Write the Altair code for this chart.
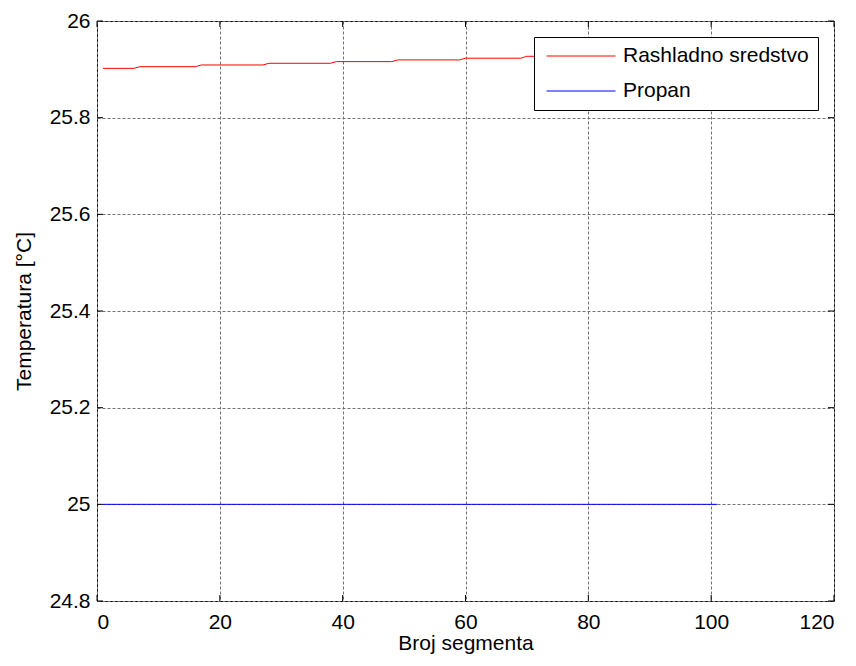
import altair as alt
import pandas as pd

# Data
red_name = "Rashladno sredstvo"
blue_name = "Propan"
red_x = [1, 6, 7, 16, 17, 27, 28, 38, 39, 48, 49, 59, 60, 69, 70, 80, 81, 90, 91, 101]
red_y = [25.902, 25.902, 25.9055, 25.9055, 25.909, 25.909, 25.9125, 25.9125,
         25.916, 25.916, 25.9195, 25.9195, 25.923, 25.923, 25.927, 25.927,
         25.930, 25.930, 25.934, 25.934]
blue_x = [1, 101]
blue_y = [25.0, 25.0]
x_ticks = [0, 20, 40, 60, 80, 100, 120]
y_ticks = [24.8, 25.0, 25.2, 25.4, 25.6, 25.8, 26.0]
colors = ["#ff0000", "#0000ff"]

W, H = 737, 580
FONT = "Liberation Sans"
FS = 21

df = pd.DataFrame(
    {"seg": red_x + blue_x,
     "temp": red_y + blue_y,
     "series": [red_name] * len(red_x) + [blue_name] * len(blue_x),
     "order": list(range(len(red_x))) + list(range(len(blue_x)))}
)
xt = pd.DataFrame({"v": x_ticks})
yt = pd.DataFrame({"v": y_ticks})

xscale = alt.Scale(domain=[0, 120], nice=False, zero=False)
yscale = alt.Scale(domain=[24.8, 26.0], nice=False, zero=False)

lines = alt.Chart(df).mark_line(strokeWidth=1).encode(
    x=alt.X("seg:Q", scale=xscale,
            axis=alt.Axis(values=x_ticks, title="Broj segmenta", ticks=False, domain=False,
                          grid=True, labelPadding=10, titlePadding=0, format="d")),
    y=alt.Y("temp:Q", scale=yscale,
            axis=alt.Axis(values=y_ticks, title="Temperatura [°C]", ticks=False, domain=False,
                          grid=True, labelPadding=7, titlePadding=15, format="~g")),
    color=alt.Color("series:N",
                    scale=alt.Scale(domain=[red_name, blue_name], range=colors),
                    legend=alt.Legend(title=None, orient="none", legendX=437, legendY=16,
                                      symbolType="stroke", symbolSize=4761, symbolStrokeWidth=1,
                                      clipHeight=20, symbolOffset=3, labelOffset=7,
                                      labelLimit=0, rowPadding=14,
                                      strokeColor="black", fillColor="white", padding=9)),
    order="order:Q",
)

TL = 6
bottom_ticks = alt.Chart(xt).mark_rule(color="black", strokeWidth=1).encode(
    x=alt.X("v:Q", scale=xscale), y=alt.value(H), y2=alt.value(H - TL))
top_ticks = alt.Chart(xt).mark_rule(color="black", strokeWidth=1).encode(
    x=alt.X("v:Q", scale=xscale), y=alt.value(0), y2=alt.value(TL))
left_ticks = alt.Chart(yt).mark_rule(color="black", strokeWidth=1).encode(
    y=alt.Y("v:Q", scale=yscale), x=alt.value(0), x2=alt.value(TL))
right_ticks = alt.Chart(yt).mark_rule(color="black", strokeWidth=1).encode(
    y=alt.Y("v:Q", scale=yscale), x=alt.value(W), x2=alt.value(W - TL))

chart = alt.layer(lines, bottom_ticks, top_ticks, left_ticks, right_ticks).properties(
    width=W, height=H,
    background="white",
    autosize=alt.AutoSizeParams(type="none"),
    padding={"left": 89, "top": 13, "right": 14, "bottom": 57},
).configure_view(
    stroke="black", strokeWidth=1
).configure_axis(
    labelFont=FONT, titleFont=FONT, labelFontSize=FS, titleFontSize=FS,
    labelColor="black", titleColor="black", titleFontWeight="normal",
    gridColor="#707070", gridDash=[3, 2], gridWidth=1, gridOpacity=1,
).configure_legend(
    labelFont=FONT, labelFontSize=FS, labelColor="black",
)

chart.save("out.html", embed_options={"renderer": "svg", "actions": False})
